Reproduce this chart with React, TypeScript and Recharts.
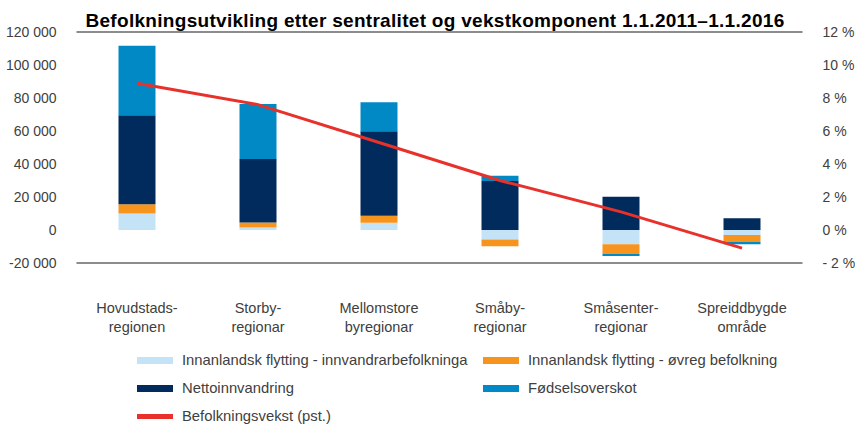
import {
  ComposedChart,
  Bar,
  Line,
  XAxis,
  YAxis,
  CartesianGrid,
} from 'recharts';

const categories = [
  'Hovudstads-\nregionen',
  'Storby-\nregionar',
  'Mellomstore\nbyregionar',
  'Småby-\nregionar',
  'Småsenter-\nregionar',
  'Spreiddbygde\nområde',
];
const innvandrar = [10000, 1500, 4400, -5700, -8700, -3000];
const ovreg = [5600, 3000, 4200, -4200, -5700, -4200];
const netto = [54000, 38600, 51300, 29700, 20200, 7100];
const fodsel = [42000, 33300, 17600, 3200, -1400, -1400];
const vekst = [8.9, 7.6, 5.3, 3.0, 1.1, -1.1];

const leftTicks = [-20000, 0, 20000, 40000, 60000, 80000, 100000, 120000];
const rightTicks = [-2, 0, 2, 4, 6, 8, 10, 12];

const data = categories.map((c, i) => ({
  name: c,
  innvandrar: innvandrar[i],
  ovreg: ovreg[i],
  netto: netto[i],
  fodsel: fodsel[i],
  vekst: vekst[i],
}));

const FONT = '"Liberation Sans", Arial, sans-serif';
const TICK = { fontFamily: FONT, fontSize: 14, fill: '#404040' };
const CAT = { fontFamily: FONT, fontSize: 14.5, fill: '#404040' };

const legendItems = [
  { label: 'Innanlandsk flytting - innvandrarbefolkninga', color: '#c5e3f6', x: 137, y: 351 },
  { label: 'Innanlandsk flytting - øvreg befolkning', color: '#f7941d', x: 483, y: 351 },
  { label: 'Nettoinnvandring', color: '#002b5c', x: 137, y: 379 },
  { label: 'Fødselsoverskot', color: '#0089c4', x: 483, y: 379 },
  { label: 'Befolkningsvekst (pst.)', color: '#e8312a', x: 137, y: 407 },
];

const fmtLeft = (v: number) => {
  const s = Math.abs(v).toString().replace(/\B(?=(\d{3})+(?!\d))/g, ' ');
  return (v < 0 ? '-' : '') + s;
};
const fmtRight = (v: number) => (v < 0 ? '- ' + Math.abs(v) : String(v)) + ' %';

const CatTick = (props: any) => {
  const { x, y, payload } = props;
  const lines = String(payload.value).split('\n');
  return (
    <text x={x} y={y + 42} textAnchor="middle" style={CAT} fill="#404040">
      {lines.map((l, i) => (
        <tspan key={i} x={x} dy={i === 0 ? 0 : 19}>
          {l}
        </tspan>
      ))}
    </text>
  );
};

export default function App() {
  return (
    <div style={{ position: 'absolute', left: 0, top: 0, width: 855, height: 426, background: '#fff', overflow: 'hidden' }}>
      <ComposedChart
        width={855}
        height={426}
        data={data}
        stackOffset="sign"
        margin={{ top: 32, right: 0, bottom: 0, left: 0 }}
      >
        <CartesianGrid horizontal vertical={false} stroke="#8c8c8c" strokeWidth={2} />
        <XAxis dataKey="name" axisLine={false} tickLine={false} tick={<CatTick />} interval={0} height={163} />
        <YAxis
          yAxisId="left"
          domain={[-20000, 120000]}
          ticks={leftTicks}
          tickFormatter={fmtLeft}
          axisLine={false}
          tickLine={false}
          tick={TICK}
          width={76.5}
          tickMargin={14}
        />
        <YAxis
          yAxisId="right"
          orientation="right"
          domain={[-2, 12]}
          ticks={rightTicks}
          tickFormatter={fmtRight}
          axisLine={false}
          tickLine={false}
          tick={TICK}
          width={52.5}
          tickMargin={14}
        />
        <Bar yAxisId="left" dataKey="innvandrar" stackId="a" fill="#c5e3f6" barSize={37} isAnimationActive={false} />
        <Bar yAxisId="left" dataKey="ovreg" stackId="a" fill="#f7941d" barSize={37} isAnimationActive={false} />
        <Bar yAxisId="left" dataKey="netto" stackId="a" fill="#002b5c" barSize={37} isAnimationActive={false} />
        <Bar yAxisId="left" dataKey="fodsel" stackId="a" fill="#0089c4" barSize={37} isAnimationActive={false} />
        <Line
          yAxisId="right"
          type="linear"
          dataKey="vekst"
          stroke="#e8312a"
          strokeWidth={3}
          dot={false}
          isAnimationActive={false}
        />
      </ComposedChart>
      <div
        style={{
          position: 'absolute',
          left: 0,
          width: 870,
          top: 10,
          textAlign: 'center',
          fontFamily: FONT,
          fontWeight: 'bold',
          fontSize: 19,
          letterSpacing: 0.3,
          lineHeight: '22px',
          color: '#000',
        }}
      >
        Befolkningsutvikling etter sentralitet og vekstkomponent 1.1.2011–1.1.2016
      </div>
      {legendItems.map((it) => (
        <div
          key={it.label}
          style={{
            position: 'absolute',
            left: it.x,
            top: it.y,
            height: 18,
            display: 'flex',
            alignItems: 'center',
            whiteSpace: 'nowrap',
            fontFamily: FONT,
            fontSize: 14.8,
            color: '#404040',
          }}
        >
          <span
            style={{
              display: 'inline-block',
              width: 36,
              height: it.color === '#e8312a' ? 5 : 7,
              background: it.color,
              marginRight: 9,
            }}
          />
          <span>{it.label}</span>
        </div>
      ))}
    </div>
  );
}
